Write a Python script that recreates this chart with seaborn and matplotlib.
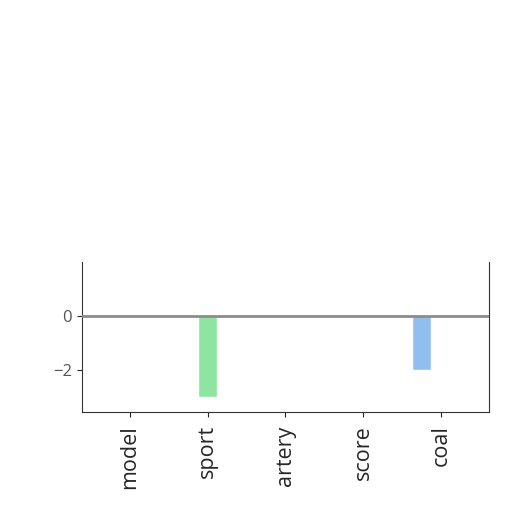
import pandas as pd
import numpy as np
import matplotlib
matplotlib.use('Agg')
import matplotlib.pyplot as plt
import seaborn as sns

# data
categories = ['model', 'sport', 'artery', 'score', 'coal']
values = [0, -3, 0, 0, -2]
groups = ['c', 'b', 'a', 'c', 'a']
group_order = ['a', 'b', 'c']
group_colors = ['#90bfef', '#8de5a1', '#ffb482']

df = pd.DataFrame({'category': categories, 'value': values, 'group': groups})

sns.set_style('ticks')
plt.rcParams['font.family'] = ['Open Sans', 'DejaVu Sans']

fig = plt.figure(figsize=(5.12, 5.12), dpi=100)
ax = fig.add_axes([0.16, 0.195, 0.795, 0.293])

sns.barplot(data=df, x='category', y='value', hue='group', order=categories,
            hue_order=group_order, palette=group_colors, width=0.75,
            dodge=True, saturation=1, legend=False, ax=ax)
ax.axhline(0, color='#8c8c8c', linewidth=2, zorder=3)

ax.set_ylim(-3.56, 2)
ax.set_xlim(-0.62, 4.62)
ax.set_yticks([0, -2])
ax.set_yticklabels(['0', '\u22122'], color='#555555')
ax.set_xlabel('')
ax.set_ylabel('')
ax.tick_params(axis='x', labelrotation=90, labelsize=15.5, pad=6)
ax.tick_params(axis='y', labelsize=12)
ax.spines['top'].set_visible(False)
for s in ['left', 'bottom', 'right']:
    ax.spines[s].set_color('#333333')

fig.savefig('out.png', dpi=100)
